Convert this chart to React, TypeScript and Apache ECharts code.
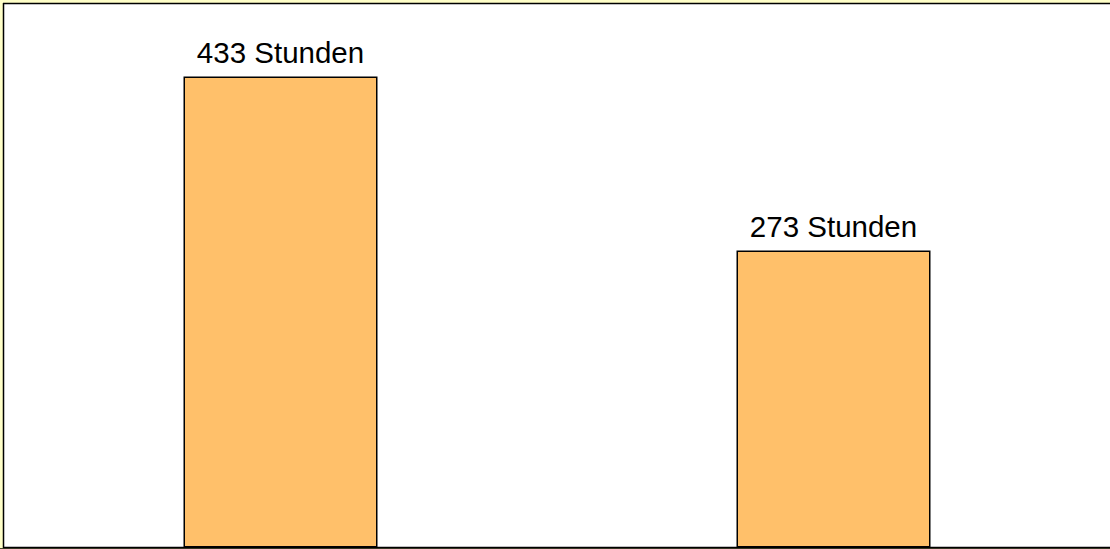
import React, { useEffect, useRef } from "react";
import * as echarts from "echarts";

const categories = ["A", "B"];
const values = [433, 273];
const labelSuffix = " Stunden";

export default function App() {
  const ref = useRef<HTMLDivElement>(null);
  useEffect(() => {
    document.body.style.margin = "0";
    const chart = echarts.init(ref.current!, undefined, { renderer: "svg" });
    const frame = { stroke: "#000000", lineWidth: 1.5 };
    const pale = { fill: "#FFFFC8" };
    chart.setOption({
      animation: false,
      backgroundColor: "#ffffff",
      graphic: [
        { type: "rect", z: 0, shape: { x: 0, y: 0, width: 1110, height: 3 }, style: pale },
        { type: "rect", z: 0, shape: { x: 0, y: 0, width: 3, height: 549 }, style: pale },
        { type: "rect", z: 0, shape: { x: 0, y: 548, width: 1110, height: 1 }, style: { fill: "#4a4a30" } },
        { type: "line", z: 100, shape: { x1: 3.5, y1: 3, x2: 3.5, y2: 548 }, style: frame },
        { type: "line", z: 100, shape: { x1: 3, y1: 3.5, x2: 1110, y2: 3.5 }, style: frame },
        { type: "line", z: 100, shape: { x1: 3, y1: 547.5, x2: 1110, y2: 547.5 }, style: frame },
      ],
      grid: {
        left: 4,
        top: 3.5,
        width: 1107,
        bottom: 1.5,
        show: false,
      },
      xAxis: {
        type: "category",
        data: categories,
        axisLine: { show: false },
        axisTick: { show: false },
        axisLabel: { show: false },
      },
      yAxis: {
        type: "value",
        min: 0,
        max: 500,
        axisLine: { show: false },
        axisTick: { show: false },
        axisLabel: { show: false },
        splitLine: { show: false },
      },
      series: [
        {
          type: "bar",
          data: values,
          barWidth: 194,
          z: 5,
          itemStyle: { color: "#FFC06A", borderColor: "#000000", borderWidth: 1.5 },
          label: {
            show: true,
            position: "top",
            distance: 9,
            formatter: (p: any) => p.value + labelSuffix,
            fontFamily: "Liberation Sans, Arial, sans-serif",
            fontSize: 29.5,
            color: "#000000",
          },
        },
      ],
    });
    return () => chart.dispose();
  }, []);
  return <div ref={ref} style={{ width: 1110, height: 549 }} />;
}
